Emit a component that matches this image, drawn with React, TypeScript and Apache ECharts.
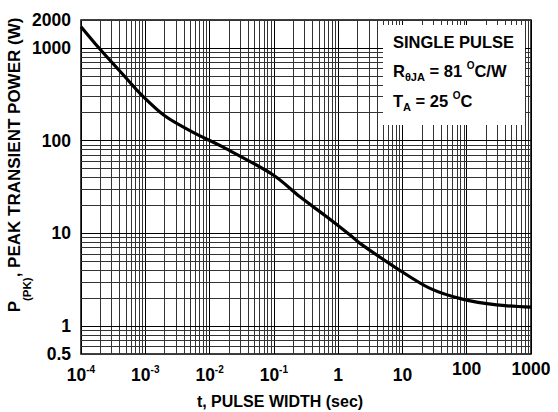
import React, { useEffect, useRef } from "react";
import * as echarts from "echarts";

// Pulse width (s) and peak transient power (W)
const pulseWidth = [1e-4, 1.98e-4, 4.83e-4, 8.79e-4, 2.03e-3, 5.27e-3, 0.0174, 0.098, 0.255, 0.664, 1.53, 2.19, 8.15, 26.9, 88.5, 292, 1000];
const peakPower = [1694, 966, 489, 310, 184, 125, 83, 42.6, 24.8, 15.1, 9.6, 7.8, 4.2, 2.55, 1.94, 1.69, 1.6];

// Tick labels
const xTickValues = [1e-4, 1e-3, 1e-2, 1e-1, 1, 10, 100, 1000];
const xTickExponents = [-4, -3, -2, -1, 0, 1, 2, 3];
const yTickValues = [0.5, 1, 10, 100, 1000, 2000];
const yTickTexts = ["0.5", "1", "10", "100", "1000", "2000"];

// Grid line positions (log paper)
const gridMultipliers = [1, 2, 3, 4, 5, 6, 7, 8, 9];
const xGridDecades = [-4, -3, -2, -1, 0, 1, 2];
const yGridDecades = [0, 1, 2];
const xGridExtra = [1000];
const yGridExtra = [0.5, 0.6, 0.7, 0.8, 0.9, 1000, 2000];
const xMin = 1e-4;
const xMax = 1000;
const yMin = 0.5;
const yMax = 2000;

const FONT = "'Liberation Sans', Arial, Helvetica, sans-serif";

export default function App() {
  const ref = useRef<HTMLDivElement>(null);

  useEffect(() => {
    if (!ref.current) return;
    const chart = echarts.init(ref.current, undefined, { renderer: "svg" });

    const xGrid: number[] = [];
    xGridDecades.forEach((d) => gridMultipliers.forEach((m) => xGrid.push(m * Math.pow(10, d))));
    xGridExtra.forEach((v) => xGrid.push(v));
    const yGrid: number[] = [];
    yGridDecades.forEach((d) => gridMultipliers.forEach((m) => yGrid.push(m * Math.pow(10, d))));
    yGridExtra.forEach((v) => yGrid.push(v));

    const isDecade = (v: number) => Math.abs(Math.log10(v) - Math.round(Math.log10(v))) < 1e-6;
    const lineFor = (v: number) => ({
      color: isDecade(v) ? "#000" : "#333",
      width: 1,
      opacity: 1,
    });

    const gridLines: any[] = [];
    xGrid.forEach((v) => gridLines.push({ coords: [[v, yMin], [v, yMax]], lineStyle: lineFor(v) }));
    yGrid.forEach((v) => gridLines.push({ coords: [[xMin, v], [xMax, v]], lineStyle: lineFor(v) }));

    const data = pulseWidth.map((t, i) => [t, peakPower[i]]);

    const richText = {
      n: { fontSize: 16.5, fontWeight: "bold", fontFamily: FONT, fill: "#000", lineHeight: 22 },
      s: { fontSize: 11, fontWeight: "bold", fontFamily: FONT, fill: "#000", lineHeight: 11, verticalAlign: "bottom" },
      p: { fontSize: 10, fontWeight: "bold", fontFamily: FONT, fill: "#000", lineHeight: 10, verticalAlign: "top" },
    };

    chart.setOption({
      animation: false,
      backgroundColor: "#fff",
      textStyle: { fontFamily: FONT },
      grid: {
        left: 81,
        right: 27,
        top: 20,
        bottom: 58,
        show: true,
        borderColor: "#000",
        borderWidth: 1.5,
        outerBoundsMode: "none",
      },
      xAxis: {
        type: "log",
        logBase: 10,
        min: xMin,
        max: xMax,
        axisLine: { show: false },
        axisTick: { show: false },
        splitLine: { show: false },
        minorSplitLine: { show: false },
        axisLabel: {
          customValues: xTickValues,
          margin: 10,
          color: "#000",
          formatter: (v: number) => {
            const e = Math.round(Math.log10(v));
            const idx = xTickExponents.indexOf(e);
            const ex = idx >= 0 ? xTickExponents[idx] : e;
            if (ex < 0) return `{b|10}{e|${ex}}`;
            if (ex >= 2) return `{h|${Math.pow(10, ex)}}`;
            return `{b|${Math.pow(10, ex)}}`;
          },
          rich: {
            b: { fontSize: 17.5, fontWeight: "bold", fontFamily: FONT, color: "#000", lineHeight: 22 },
            h: { fontSize: 17.5, fontWeight: "bold", fontFamily: FONT, color: "#000", lineHeight: 10 },
            e: { fontSize: 10, fontWeight: "bold", fontFamily: FONT, color: "#000", lineHeight: 10, verticalAlign: "top" },
          },
        },
        name: "t, PULSE WIDTH (sec)",
        nameLocation: "middle",
        nameGap: 39,
        nameMoveOverlap: false,
        nameTextStyle: {
          fontSize: 16,
          fontWeight: "bold",
          fontFamily: FONT,
          color: "#000",
          padding: [0, 52, 0, 0],
        },
      },
      yAxis: {
        type: "log",
        logBase: 10,
        min: yMin,
        max: yMax,
        axisLine: { show: false },
        axisTick: { show: false },
        splitLine: { show: false },
        minorSplitLine: { show: false },
        axisLabel: {
          customValues: yTickValues,
          margin: 10,
          color: "#000",
          fontSize: 17.5,
          fontWeight: "bold",
          fontFamily: FONT,
          formatter: (v: number) => {
            let best = 0;
            yTickValues.forEach((t, i) => {
              if (Math.abs(Math.log10(t) - Math.log10(v)) < Math.abs(Math.log10(yTickValues[best]) - Math.log10(v))) best = i;
            });
            return yTickTexts[best];
          },
        },
        name: "{a|P}{s|(PK)}{a|, PEAK TRANSIENT POWER (W)}",
        nameLocation: "middle",
        nameRotate: 90,
        nameGap: 48,
        nameMoveOverlap: false,
        nameTextStyle: {
          padding: [0, 0, 0, 44],
          rich: {
            a: { fontSize: 17, fontWeight: "bold", fontFamily: FONT, color: "#000", lineHeight: 38 },
            s: { fontSize: 11.5, fontWeight: "bold", fontFamily: FONT, color: "#000", lineHeight: 12, verticalAlign: "bottom" },
          },
        },
      },
      series: [
        {
          type: "lines",
          coordinateSystem: "cartesian2d",
          z: 1,
          silent: true,
          polyline: false,
          symbol: "none",
          lineStyle: { color: "#000", width: 1, opacity: 1 },
          data: gridLines,
        },
        {
          type: "line",
          z: 10,
          data,
          smooth: 0.3,
          showSymbol: false,
          symbol: "none",
          lineStyle: { color: "#000", width: 3.2 },
          silent: true,
        },
      ],
      graphic: [
        {
          type: "rect",
          z: 100,
          shape: { x: 383, y: 25, width: 142, height: 100 },
          style: { fill: "#fff" },
        },
        {
          type: "text",
          z: 101,
          x: 393,
          y: 42,
          style: {
            text: "SINGLE PULSE",
            font: `bold 16.5px ${FONT}`,
            fill: "#000",
            verticalAlign: "middle",
          },
        },
        {
          type: "text",
          z: 101,
          x: 393,
          y: 71,
          style: {
            text: "{n|R}{s|θJA}{n| = 81 }{p|O}{n|C/W}",
            verticalAlign: "middle",
            rich: richText,
          },
        },
        {
          type: "text",
          z: 101,
          x: 393,
          y: 101,
          style: {
            text: "{n|T}{s|A}{n| = 25 }{p|O}{n|C}",
            verticalAlign: "middle",
            rich: richText,
          },
        },
      ],
    });

    return () => chart.dispose();
  }, []);

  return (
    <div
      ref={ref}
      style={{ position: "fixed", left: 0, top: 0, width: 558, height: 412, background: "#fff" }}
    />
  );
}
